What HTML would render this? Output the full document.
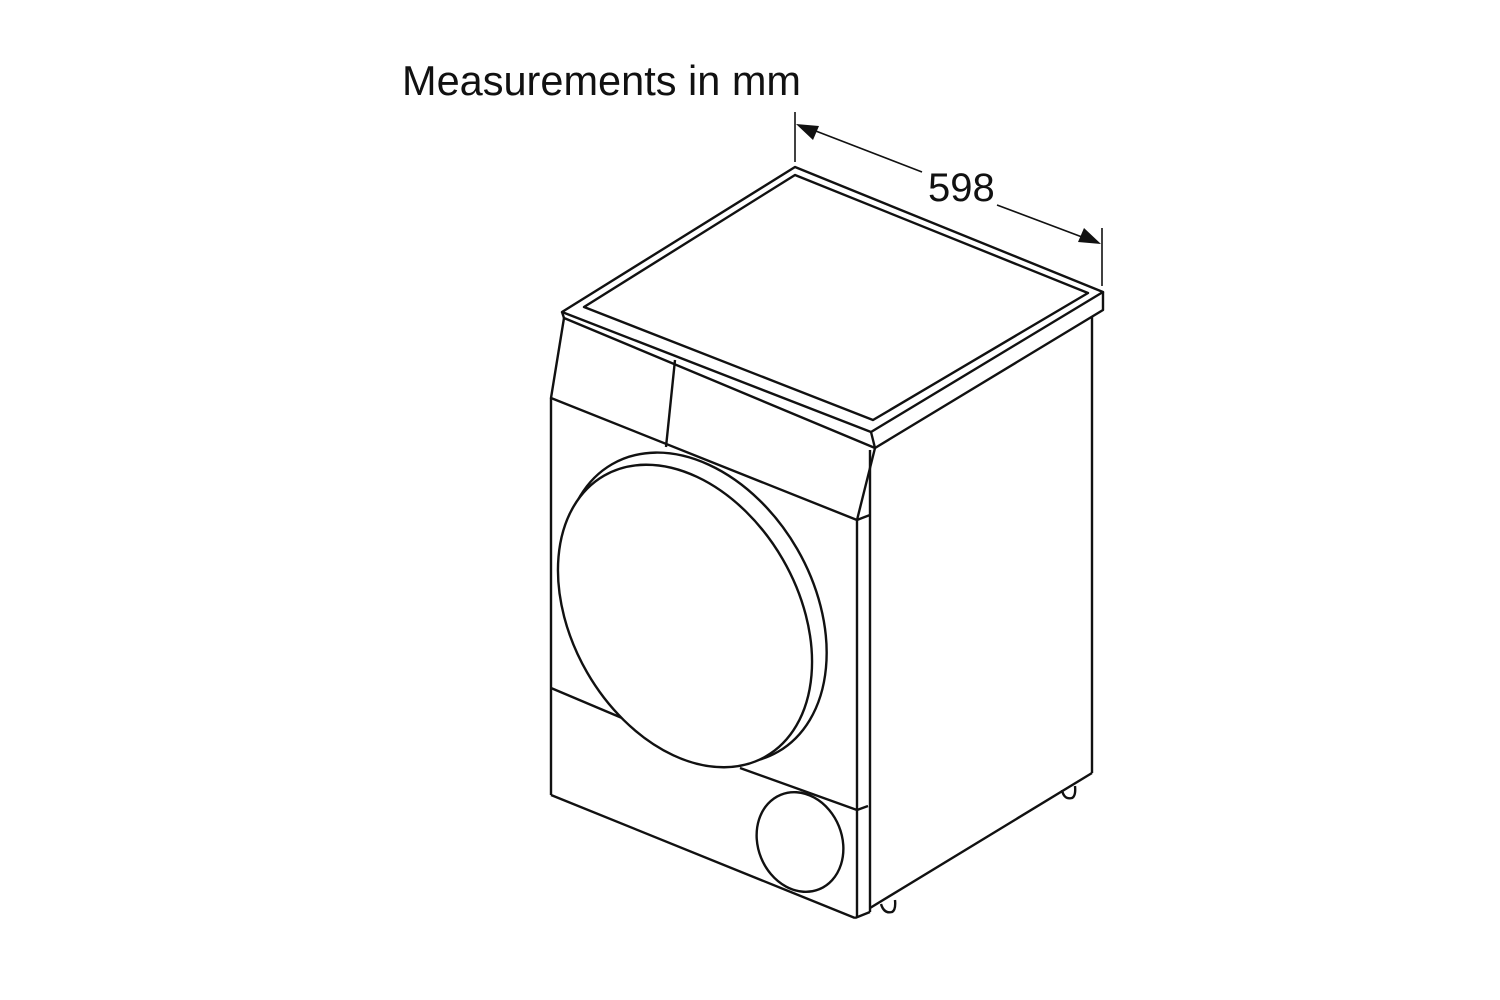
<!DOCTYPE html>
<html><head><meta charset="utf-8"><style>
html,body{margin:0;padding:0;background:#fff;}
svg{display:block}
</style></head><body>
<svg width="1500" height="1000" viewBox="0 0 1500 1000" xmlns="http://www.w3.org/2000/svg">
<rect width="1500" height="1000" fill="#fff"/>
<text x="402" y="95" font-family="Liberation Sans, sans-serif" font-size="41.5" fill="#111">Measurements in mm</text>
<text x="928" y="201" font-family="Liberation Sans, sans-serif" font-size="40" fill="#111">598</text>
<g stroke="#111" stroke-width="1.6" fill="none">
<line x1="795" y1="112" x2="795" y2="162"/>
<line x1="1102" y1="228" x2="1102" y2="286"/>
<line x1="808" y1="128" x2="922" y2="172"/>
<line x1="997" y1="205" x2="1090" y2="240"/>
</g>
<polygon points="796,124 819,126 813,140" fill="#111"/>
<polygon points="1101,244 1078,242 1084,228" fill="#111"/>
<g stroke="#111" stroke-width="2.4" fill="none" stroke-linejoin="round">
<polygon points="795,167 1103,292 871,432 562,312"/>
<polygon points="795,175 1088,293 873,420 584,307"/>
<polyline points="562,312 564,318 875,448 1103,310 1103,292"/>
<line x1="871" y1="432" x2="875" y2="448"/>
<polyline points="564,318 551,398 857,520 875,448"/>
<line x1="675" y1="360" x2="666" y2="447"/>
<path d="M857,520 Q862,518 870,515"/>
<line x1="870" y1="450" x2="870" y2="912"/>
<line x1="1092" y1="317" x2="1092" y2="773"/>
<line x1="870" y1="908" x2="1092" y2="773"/>
<line x1="551" y1="398" x2="551" y2="795"/>
<line x1="857" y1="520" x2="857" y2="918"/>
<line x1="551" y1="795" x2="855" y2="918"/>
<line x1="855" y1="918" x2="870" y2="912"/>
<polyline points="551,688 622,718"/>
<polyline points="740,768 857,810 868,806"/>
<ellipse cx="695" cy="608" rx="118" ry="166" transform="rotate(-30 695 608)" fill="#fff"/>
<ellipse cx="685" cy="616" rx="113" ry="162" transform="rotate(-30 685 616)" fill="#fff"/>
<ellipse cx="800" cy="842" rx="42" ry="51" transform="rotate(-22 800 842)"/>
<path d="M881,904 Q884,914 892,912 Q896,910 895,900"/>
<path d="M1062,790 Q1064,800 1072,798 Q1076,796 1075,786"/>
</g>
</svg>
</body></html>
